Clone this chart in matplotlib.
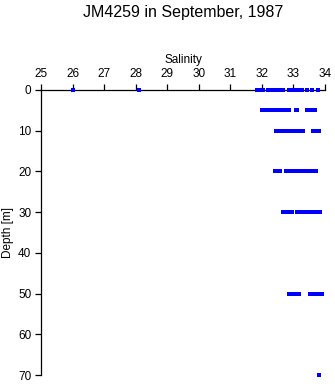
import matplotlib
matplotlib.use("Agg")
import matplotlib.pyplot as plt

plt.rcParams['font.family'] = ['Liberation Sans', 'DejaVu Sans']

# salinity readings per sampling depth (m)
sal_0 = [26.0, 28.1, 31.85, 31.9, 31.95, 32.0, 32.05, 32.18, 32.22, 32.27, 32.32, 32.37,
         32.42, 32.47, 32.52, 32.57, 32.62, 32.67, 32.85, 32.9, 32.95, 33.0, 33.05,
         33.18, 33.23, 33.28, 33.42, 33.6, 33.78]
sal_5 = [32.0, 32.08, 32.18, 32.23, 32.28, 32.33, 32.38, 32.43, 32.48, 32.53, 32.58,
         32.63, 32.68, 32.73, 32.78, 32.85, 33.07, 33.12, 33.42, 33.48, 33.62, 33.68]
sal_10 = [32.45, 32.5, 32.55, 32.6, 32.65, 32.7, 32.75, 32.88, 32.93, 32.98, 33.03,
          33.08, 33.13, 33.18, 33.23, 33.3, 33.62, 33.68, 33.74, 33.82]
sal_20 = [32.42, 32.5, 32.57, 32.75, 32.8, 32.85, 32.9, 32.95, 33.0, 33.05, 33.1, 33.15,
          33.2, 33.26, 33.31, 33.36, 33.41, 33.46, 33.51, 33.56, 33.61, 33.66, 33.72]
sal_30 = [32.68, 32.73, 32.8, 32.85, 32.92, 32.97, 33.1, 33.15, 33.2, 33.25, 33.3, 33.35,
          33.4, 33.45, 33.5, 33.55, 33.6, 33.65, 33.7, 33.75, 33.85]
sal_50 = [32.85, 32.9, 33.02, 33.07, 33.12, 33.18, 33.52, 33.57, 33.62, 33.67, 33.72,
          33.77, 33.82, 33.87, 33.92]
sal_70 = [33.8]

depths = [0, 5, 10, 20, 30, 50, 70]
salinity = [sal_0, sal_5, sal_10, sal_20, sal_30, sal_50, sal_70]

x_ticks = list(range(25, 35))
y_ticks = list(range(0, 80, 10))

fig = plt.figure(figsize=(3.35, 3.84), dpi=100)
ax = fig.add_axes([41/335, 1 - 375/384, 284/335, 285/384])

for d, s in zip(depths, salinity):
    ax.plot(s, [d] * len(s), linestyle='none', marker='s', markersize=2.2,
            color='#0000ff', markeredgewidth=0, clip_on=False, zorder=3)

ax.set_xlim(25, 34)
ax.set_ylim(70, 0)
ax.set_xticks(x_ticks)
ax.set_yticks(y_ticks)
ax.xaxis.tick_top()
ax.xaxis.set_label_position('top')
ax.spines['right'].set_visible(False)
ax.spines['bottom'].set_visible(False)
for sp in ('top', 'left'):
    ax.spines[sp].set_linewidth(0.9)
ax.tick_params(axis='both', length=4, width=0.9, labelsize=8.5, pad=3)
ax.set_xlabel('Salinity', fontsize=8.5, labelpad=4)
ax.set_ylabel('Depth [m]', fontsize=8.5, labelpad=3)

fig.text(183/335, 1 - 12/384, 'JM4259 in September, 1987', ha='center', va='center',
         fontsize=11.5)

fig.savefig('out.png', dpi=100)
